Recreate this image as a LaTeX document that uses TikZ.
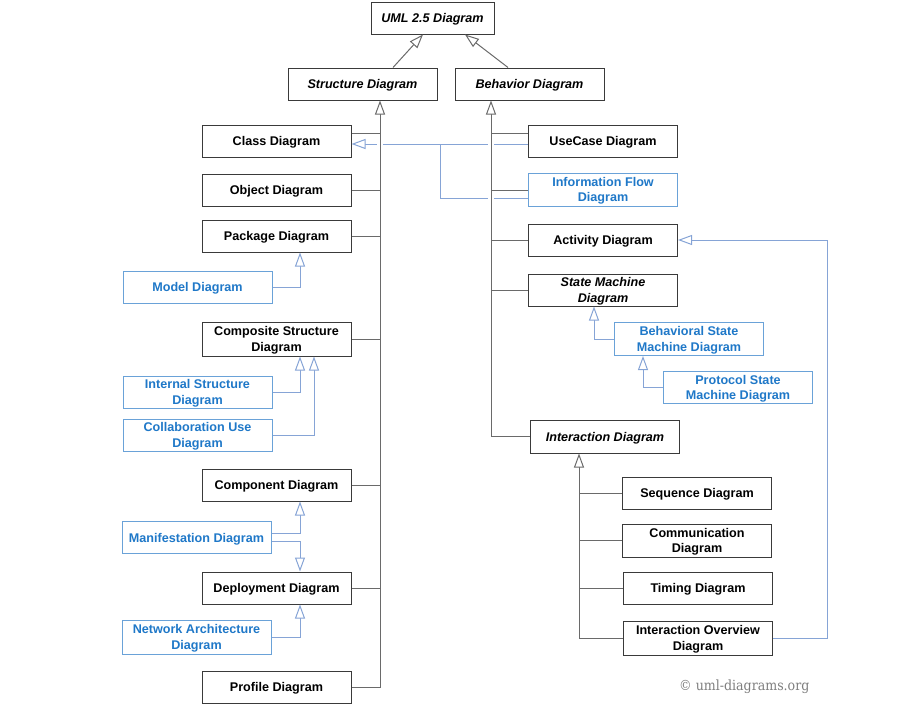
\documentclass[tikz,border=0pt]{standalone}
\usepackage{fontspec}
\setmainfont{Liberation Sans}
\newfontfamily\markfont{DejaVu Serif Condensed}
\usetikzlibrary{arrows.meta}

\definecolor{boxline}{HTML}{3A3A3A}
\definecolor{busline}{HTML}{6A6A6A}
\definecolor{bluetext}{HTML}{1F78C8}
\definecolor{bluebox}{HTML}{6AA2D8}
\definecolor{blueline}{HTML}{86A4D6}
\definecolor{marktext}{HTML}{7E7E7E}

\tikzset{
  x=1pt, y=-1pt,
  every node/.style={inner sep=0pt, align=center, text depth=0pt,
    font=\fontsize{12.6}{15.5}\selectfont\bfseries},
  kind/.style={draw=boxline, line width=1pt, fill=white,
    minimum width=149pt, minimum height=32pt, text=black},
  abstractkind/.style={kind, font=\fontsize{12.6}{15.5}\selectfont\bfseries\itshape},
  extkind/.style={draw=bluebox, line width=1pt, fill=white,
    minimum width=149pt, minimum height=32pt, text=bluetext},
  bus/.style={draw=busline, line width=1pt},
  halobus/.style={bus, preaction={draw=white, line width=6pt}},
  extlink/.style={draw=blueline, line width=1pt},
  gen/.style={-{Triangle[open, length=14pt, width=10pt, fill=white]}},
}

\begin{document}
\begin{tikzpicture}
\useasboundingbox (0,0) rectangle (905,723);

% top of the hierarchy
\node[abstractkind, minimum width=123pt] (uml) at (432.5,18) {UML 2.5 Diagram};
\node[abstractkind] (structure) at (362.5,84) {Structure Diagram};
\node[abstractkind] (behavior) at (529.5,84) {Behavior Diagram};

% structure diagrams
\node[kind] (class) at (276.5,141) {Class Diagram};
\node[kind] (object) at (276.5,190) {Object Diagram};
\node[kind] (package) at (276.5,236) {Package Diagram};
\node[extkind] (model) at (197.5,287) {Model Diagram};
\node[kind, minimum height=34pt] (composite) at (276.5,339) {Composite Structure\\Diagram};
\node[extkind] (internal) at (197.5,392) {Internal Structure\\Diagram};
\node[extkind] (collab) at (197.5,435) {Collaboration Use\\Diagram};
\node[kind] (component) at (276.5,485) {Component Diagram};
\node[extkind] (manifest) at (196.5,537.5) {Manifestation Diagram};
\node[kind] (deployment) at (276.5,588) {Deployment Diagram};
\node[extkind, minimum height=34pt] (network) at (196.5,637) {Network Architecture\\Diagram};
\node[kind] (profile) at (276.5,687) {Profile Diagram};

% behavior diagrams
\node[kind] (usecase) at (603,141) {UseCase Diagram};
\node[extkind, minimum height=33pt] (infoflow) at (603,189.5) {Information Flow\\Diagram};
\node[kind] (activity) at (603,240) {Activity Diagram};
\node[abstractkind] (statemachine) at (603,290) {State Machine\\Diagram};
\node[extkind, minimum height=33pt] (behavioral) at (689,339) {Behavioral State\\Machine Diagram};
\node[extkind] (protocol) at (738,387.5) {Protocol State\\Machine Diagram};
\node[abstractkind, minimum height=33pt] (interaction) at (605,436.5) {Interaction Diagram};
\node[kind] (sequence) at (697,493) {Sequence Diagram};
\node[kind, minimum height=33pt] (communication) at (697,540.5) {Communication\\Diagram};
\node[kind] (timing) at (698,588) {Timing Diagram};
\node[kind, minimum height=34pt] (overview) at (698,638) {Interaction Overview\\Diagram};

% generalizations to the root
\draw[bus, gen] ([xshift=30.5pt]structure.north) -- ([xshift=-9.5pt]uml.south);
\draw[bus, gen] ([xshift=-21.5pt]behavior.north) -- ([xshift=32.5pt]uml.south);

% extension links (drawn first so the buses cut through them)
\draw[extlink, gen] ([yshift=-3pt]usecase.west) -- ([yshift=-3pt]class.east);
\coordinate (flowjog) at (440,144);
\draw[extlink] ([yshift=-8.5pt]infoflow.west) -| (flowjog);
\draw[extlink, gen] (overview.east) -- (827,638) |- (activity.east);

% structure bus
\coordinate (sbus) at ([xshift=17.5pt]structure.south);
\draw[halobus, gen] (profile.east) -| (sbus);
\draw[bus] ([yshift=8pt]class.east) -- ([yshift=8pt]class.east -| sbus);
\foreach \n in {object, package, composite, component, deployment}
  \draw[bus] (\n.east) -- (\n.east -| sbus);

% behavior bus
\coordinate (bbus) at ([xshift=-38.5pt]behavior.south);
\draw[halobus, gen] (interaction.west) -| (bbus);
\draw[bus] ([yshift=8pt]usecase.west) -- ([yshift=8pt]usecase.west -| bbus);
\draw[bus] ([yshift=-0.5pt]infoflow.west) -- ([yshift=-0.5pt]infoflow.west -| bbus);
\foreach \n in {activity, statemachine}
  \draw[bus] (\n.west) -- (\n.west -| bbus);

% interaction bus
\coordinate (ibus) at ([xshift=-26pt]interaction.south);
\draw[bus, gen] (overview.west) -| (ibus);
\foreach \n in {sequence, communication, timing}
  \draw[bus] (\n.west) -- (\n.west -| ibus);

% extensions of structure diagrams
\draw[extlink, gen] (model.east) -| ([xshift=23.5pt]package.south);
\draw[extlink, gen] (internal.east) -| ([xshift=23.5pt]composite.south);
\draw[extlink, gen] (collab.east) -| ([xshift=37.5pt]composite.south);
\draw[extlink, gen] ([yshift=4.5pt]manifest.east) -| ([xshift=23.5pt]component.south);
\draw[extlink, gen] ([yshift=-3.5pt]manifest.east) -| ([xshift=23.5pt]deployment.north);
\draw[extlink, gen] (network.east) -| ([xshift=23.5pt]deployment.south);

% extensions of state machine diagrams
\draw[extlink, gen] (behavioral.west) -| ([xshift=-9pt]statemachine.south);
\draw[extlink, gen] (protocol.west) -| ([xshift=-46pt]behavioral.south);

% site mark
\node[font=\markfont\fontsize{14}{16}\selectfont, text=marktext, anchor=west] (mark) at (679,685) {© uml-diagrams.org};
\end{tikzpicture}
\end{document}
